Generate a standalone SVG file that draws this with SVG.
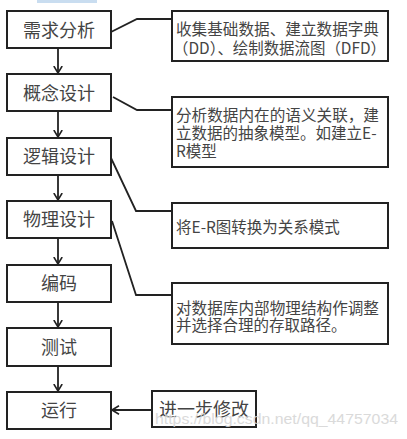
<svg xmlns="http://www.w3.org/2000/svg" width="407" height="439" viewBox="0 0 407 439">
<style>
.box{fill:#fff;stroke:#222;stroke-width:2}
.lt{font-family:"Noto Sans CJK SC","Noto Sans",sans-serif;font-size:18px;fill:#444;text-anchor:middle}
.rt{font-family:"Noto Sans CJK SC","Noto Sans",sans-serif;font-size:15.5px;fill:#444}
.ln{fill:none;stroke:#222;stroke-width:1.8}
.wm{font-family:"Liberation Sans",Arial,sans-serif;font-size:15px;fill:#d4d4d4;opacity:0.85}
</style>
<defs>
<marker id="ah" viewBox="0 0 8 10" refX="7.5" refY="5" markerWidth="8" markerHeight="10" markerUnits="userSpaceOnUse" orient="auto">
<path d="M0.5,0.8 L7.5,5 L0.5,9.2" fill="none" stroke="#222" stroke-width="1.6"/>
</marker>
</defs>
<rect x="0" y="0" width="407" height="439" fill="#fff"/>
<rect x="37" y="0" width="60" height="3" fill="#c9ddf0"/>
<g id="n1"><rect class="box" x="7" y="11" width="104" height="37"/><text class="lt" x="59" y="37">需求分析</text></g>
<g id="n2"><rect class="box" x="7" y="74" width="104" height="37"/><text class="lt" x="59" y="100">概念设计</text></g>
<g id="n3"><rect class="box" x="7" y="138" width="104" height="37"/><text class="lt" x="59" y="163">逻辑设计</text></g>
<g id="n4"><rect class="box" x="7" y="201" width="104" height="37"/><text class="lt" x="59" y="226">物理设计</text></g>
<g id="n5"><rect class="box" x="7" y="265" width="104" height="37"/><text class="lt" x="59" y="290">编码</text></g>
<g id="n6"><rect class="box" x="7" y="328" width="104" height="38"/><text class="lt" x="59" y="354">测试</text></g>
<g id="n7"><rect class="box" x="7" y="392" width="104" height="37"/><text class="lt" x="59" y="417">运行</text></g>
<g id="r1"><rect class="box" x="172" y="11" width="216" height="50"/>
<text class="rt" x="176" y="34.5" textLength="203" lengthAdjust="spacingAndGlyphs">收集基础数据、建立数据字典</text>
<text class="rt" x="173" y="53.5" textLength="213" lengthAdjust="spacingAndGlyphs">（DD）、绘制数据流图（DFD）</text></g>
<g id="r2"><rect class="box" x="172" y="97" width="216" height="70"/>
<text class="rt" x="176" y="120.5" textLength="203" lengthAdjust="spacingAndGlyphs">分析数据内在的语义关联，建</text>
<text class="rt" x="176" y="138.5">立数据的抽象模型。如建立E-</text>
<text class="rt" x="176" y="156.5">R模型</text></g>
<g id="r3"><rect class="box" x="172" y="203" width="216" height="45"/>
<text class="rt" x="176" y="232.5">将E-R图转换为关系模式</text></g>
<g id="r4"><rect class="box" x="172" y="283" width="216" height="61"/>
<text class="rt" x="176" y="313.5" textLength="203" lengthAdjust="spacingAndGlyphs">对数据库内部物理结构作调整</text>
<text class="rt" x="176" y="330.5">并选择合理的存取路径。</text></g>
<g id="r5"><rect class="box" x="152" y="391" width="104" height="36"/>
<text class="lt" x="204" y="416">进一步修改</text></g>
<g id="connectors">
<line class="ln" x1="58" y1="48" x2="58" y2="73" marker-end="url(#ah)"/>
<line class="ln" x1="58" y1="111" x2="58" y2="137" marker-end="url(#ah)"/>
<line class="ln" x1="58" y1="175" x2="58" y2="200" marker-end="url(#ah)"/>
<line class="ln" x1="58" y1="238" x2="58" y2="264" marker-end="url(#ah)"/>
<line class="ln" x1="58" y1="302" x2="58" y2="327" marker-end="url(#ah)"/>
<line class="ln" x1="58" y1="366" x2="58" y2="391" marker-end="url(#ah)"/>
<line class="ln" x1="152" y1="410" x2="112" y2="410" marker-end="url(#ah)"/>
<polyline class="ln" points="111,32 137,19 172,19"/>
<polyline class="ln" points="113,97 137,110 172,110"/>
<polyline class="ln" points="111,158 136,211 172,211"/>
<polyline class="ln" points="112,221 136,295 172,295"/>
</g>
<text class="wm" x="155" y="424" textLength="243" lengthAdjust="spacingAndGlyphs">https://blog.csdn.net/qq_44757034</text>
</svg>
